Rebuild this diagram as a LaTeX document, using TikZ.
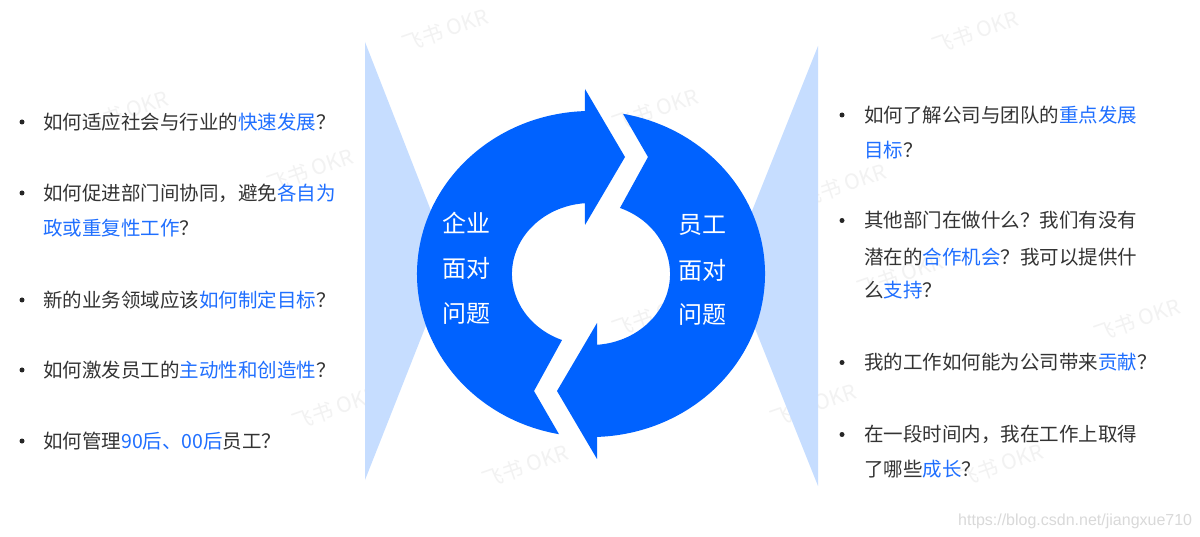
\documentclass[tikz,border=0pt]{standalone}
\usepackage{fontspec}
\setmainfont{Liberation Sans}
\newfontfamily\cjk{Noto Sans CJK SC}
\definecolor{ringblue}{HTML}{0062FF}
\definecolor{lightblue}{HTML}{C6DDFF}
\definecolor{txtblue}{HTML}{1F6FFF}
\definecolor{txtdark}{HTML}{333333}
\newcommand{\hl}[1]{\textcolor{txtblue}{#1}}
\begin{document}
\begin{tikzpicture}[x=1pt,y=1pt,
  item/.style={anchor=base west, inner sep=0pt, font=\cjk\fontsize{19.5}{19.5}\selectfont, text=txtdark},
  dot/.style={circle, fill=black!85, inner sep=0pt, minimum size=5pt},
  ringtext/.style={anchor=base, inner sep=0pt, text=white, font=\cjk\fontsize{24}{24}\selectfont},
  wm/.style={inner sep=0pt, text=black!5, rotate=19, font=\cjk\fontsize{21}{21}\selectfont},
  fan/.style={fill=lightblue},
  ring/.style={fill=ringblue},
]
\useasboundingbox (0,0) rectangle (1200,536);
\fill[white] (0,0) rectangle (1200,536);

% watermarks
\foreach \p/\n in {{(445,506)}/a,{(975,504)}/b,{(125,424)}/c,{(310,366)}/d,{(655,426)}/e,{(843,351)}/f,{(900,261)}/i,{(1137,216)}/g,{(335,128)}/j,{(813,131)}/l,{(1000,71)}/m,{(525,70)}/n,{(655,221)}/k}
  \node[wm] (wm\n) at \p {飞书 OKR};

% light blue fans
\fill[fan] (365,494) -- (451,274) -- (365,56) -- cycle;
\fill[fan] (818,490) -- (730,270) -- (818,50) -- cycle;

% ring arrows
\def\segment{(559,101.8) arc[start angle=259.4, end angle=92, x radius=174pt, y radius=163pt]
  -- (585,447) -- (625,379) -- (585,311) -- (584.9,332.8)
  arc[start angle=94.4, end angle=248.5, x radius=79pt, y radius=71pt]
  -- (534,145) -- cycle}
\fill[ring] \segment;
\fill[ring, rotate around={180:(591,262)}] \segment;

% ring texts
\node[ringtext] (lt1) at (466,303.9) {企业};
\node[ringtext] (lt2) at (466,258.9) {面对};
\node[ringtext] (lt3) at (466,213.9) {问题};
\node[ringtext] (rt1) at (702.5,302.9) {员工};
\node[ringtext] (rt2) at (702.5,256.9) {面对};
\node[ringtext] (rt3) at (702.5,212.9) {问题};

% left list
\foreach \yy/\n in {414/1,343/2,236/3,166/4,95/5}
  \node[dot] (lb\n) at (22,\yy) {};
\node[item] (l1) at (43,406.6) {如何适应社会与行业的\hl{快速发展}？};
\node[item] (l2a) at (43,335.6) {如何促进部门间协同，避免\hl{各自为}};
\node[item] (l2b) at (43,300.6) {\hl{政或重复性工作}？};
\node[item] (l3) at (43,228.6) {新的业务领域应该\hl{如何制定目标}？};
\node[item] (l4) at (43,158.6) {如何激发员工的\hl{主动性和创造性}？};
\node[item] (l5) at (43,87.6) {如何管理\hl{90后、00后}员工？};

% right list
\foreach \yy/\n in {421/1,315.5/2,173.5/3,101.5/4}
  \node[dot] (rb\n) at (842,\yy) {};
\node[item] (r1a) at (864,413.6) {如何了解公司与团队的\hl{重点发展}};
\node[item] (r1b) at (864,378.1) {\hl{目标}？};
\node[item] (r2a) at (864,308.1) {其他部门在做什么？我们有没有};
\node[item] (r2b) at (864,271.1) {潜在的\hl{合作机会}？我可以提供什};
\node[item] (r2c) at (864,238.1) {么\hl{支持}？};
\node[item] (r3) at (864,166.1) {我的工作如何能为公司带来\hl{贡献}？};
\node[item] (r4a) at (864,94.1) {在一段时间内，我在工作上取得};
\node[item] (r4b) at (864,59.1) {了哪些\hl{成长}？};

% url
\node[anchor=base west, inner sep=0pt, text=black!15, font=\fontsize{16}{16}\selectfont] (url) at (958,11) {https://blog.csdn.net/jiangxue710};
\end{tikzpicture}
\end{document}
